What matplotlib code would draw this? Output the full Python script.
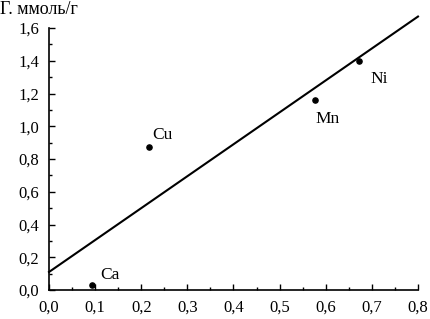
import matplotlib
matplotlib.use("Agg")
import matplotlib.pyplot as plt
import numpy as np
from matplotlib.ticker import MultipleLocator, FuncFormatter

elements = ["Ca", "Cu", "Mn", "Ni"]
x_vals = [0.093, 0.217, 0.577, 0.672]
y_vals = [0.03, 0.873, 1.16, 1.40]
line_x = [0.0, 0.8]
line_y = [0.11, 1.67]

plt.rcParams['font.family'] = ['Liberation Serif', 'DejaVu Serif']

fig = plt.figure(figsize=(4.31, 3.19), dpi=100)
ax = fig.add_axes([0.1137, 0.0909, 0.8561, 0.8213])

ax.plot(line_x, line_y, color='black', lw=1.5, clip_on=False)
ax.scatter(x_vals, y_vals, s=14, color='black', zorder=3, clip_on=False)

# offsets in pixels (dx, dy, ha, va)
offsets = {"Ca": (8, 2, 'left', 'bottom'), "Cu": (3, 4, 'left', 'bottom'),
           "Mn": (0, -11, 'left', 'top'), "Ni": (12, -10, 'left', 'top')}
for name, xv, yv in zip(elements, x_vals, y_vals):
    dx, dy, ha, va = offsets[name]
    ax.annotate(name, (xv, yv), xytext=(dx, dy), textcoords='offset pixels',
                ha=ha, va=va, fontsize=12.5)

ax.set_xlim(0, 0.8)
ax.set_ylim(0, 1.6)
ax.xaxis.set_major_locator(MultipleLocator(0.1))
ax.xaxis.set_minor_locator(MultipleLocator(0.05))
ax.yaxis.set_major_locator(MultipleLocator(0.2))
ax.yaxis.set_minor_locator(MultipleLocator(0.1))
fmt = FuncFormatter(lambda v, p: f"{v:.1f}".replace('.', ','))
ax.xaxis.set_major_formatter(fmt)
ax.yaxis.set_major_formatter(fmt)

for s in ['top', 'right']:
    ax.spines[s].set_visible(False)
for s in ['left', 'bottom']:
    ax.spines[s].set_linewidth(1.2)

ax.tick_params(which='major', direction='in', length=4, width=1, labelsize=12, pad=7)
ax.tick_params(which='minor', direction='in', length=2, width=1)

fig.text(0.0, 0.998, "Г. ммоль/г", ha='left', va='top', fontsize=13)

fig.savefig("out.png", dpi=100)
